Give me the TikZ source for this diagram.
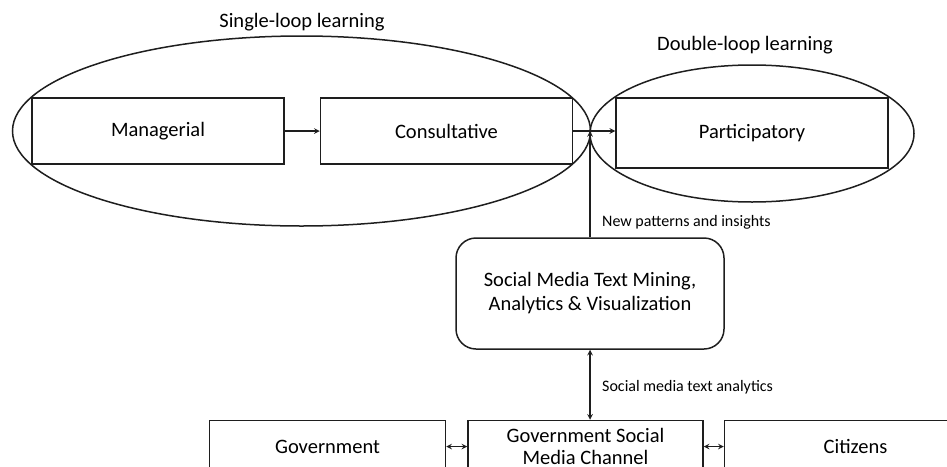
\documentclass[tikz,border=0pt]{standalone}
\usepackage{fontspec}
\setmainfont{Carlito}
\usepackage{tikz}
\usetikzlibrary{arrows,shapes,positioning}
\usepackage{xcolor}
\definecolor{lnblack}{RGB}{30,30,30}
\tikzstyle{arrow} = [line width=1.5pt,->,>=stealth,color=lnblack]
\tikzstyle{dblarrow} = [line width=1.5pt,<->,>=stealth,color=lnblack]
\tikzstyle{loopellipse} = [ellipse, draw=lnblack, line width=1.5pt, inner sep=0pt]
\tikzstyle{levelbox} = [rectangle, minimum height=66pt, text centered, draw=lnblack, line width=1.5pt, font=\fontsize{20.5}{25}\selectfont]
\tikzstyle{minebox} = [rectangle, rounded corners=20pt, minimum width=268pt, minimum height=111pt, align=center, draw=lnblack, line width=1.5pt, font=\fontsize{20.5}{24}\selectfont]
\tikzstyle{actorbox} = [rectangle, minimum height=52pt, align=center, draw=lnblack, line width=1.5pt, font=\fontsize{20.5}{22.5}\selectfont]
\tikzstyle{smalltext} = [font=\fontsize{16}{19}\selectfont, inner sep=0pt]

\begin{document}
\begin{tikzpicture}[x=1pt,y=-1pt]
\useasboundingbox (0,0) rectangle (947,466);
\clip (0,0) rectangle (947,466);
% learning loops
\node[loopellipse, minimum width=578pt, minimum height=190pt] (single) at (301.5,131) {};
\node[loopellipse, minimum width=324pt, minimum height=137pt] (double) at (752,133.5) {};
\node[font=\fontsize{20.5}{25}\selectfont] (singlelbl) at (302,22) {Single-loop learning};
\node[font=\fontsize{20.5}{25}\selectfont] (doublelbl) at (745,45) {Double-loop learning};
% participation levels
\node[levelbox, minimum width=252pt] (mgr) at (158,131) {Managerial};
\node[levelbox, minimum width=252pt, right=35pt of mgr] (cons) {Consultative};
\node[levelbox, minimum width=272pt, minimum height=70pt] (part) at (752,133) {Participatory};
\draw[arrow] (mgr) -- (cons);
\draw[arrow] (cons.east) -- (cons.east -| part.west);
% text mining
\node[minebox] (mining) at (590,293.5) {Social Media Text Mining,\\Analytics \& Visualization};
\draw[arrow] (mining.north) -- (mining.north |- single.east);
\node[smalltext, anchor=west] (insights) at (602,222) {New patterns and insights};
% actors
\node[actorbox, minimum width=235pt] (gsmc) at (585.5,446.5) {Government Social\\Media Channel};
\node[actorbox, minimum width=236pt, left=21pt of gsmc] (gov) {Government};
\node[actorbox, minimum width=262pt, right=20pt of gsmc] (cit) {Citizens};
\draw[dblarrow] (mining.south) -- (mining.south |- gsmc.north);
\node[smalltext, anchor=west] (analytics) at (602,387) {Social media text analytics};
\draw[dblarrow] (gov) -- (gsmc);
\draw[dblarrow] (gsmc) -- (cit);
\end{tikzpicture}
\end{document}
